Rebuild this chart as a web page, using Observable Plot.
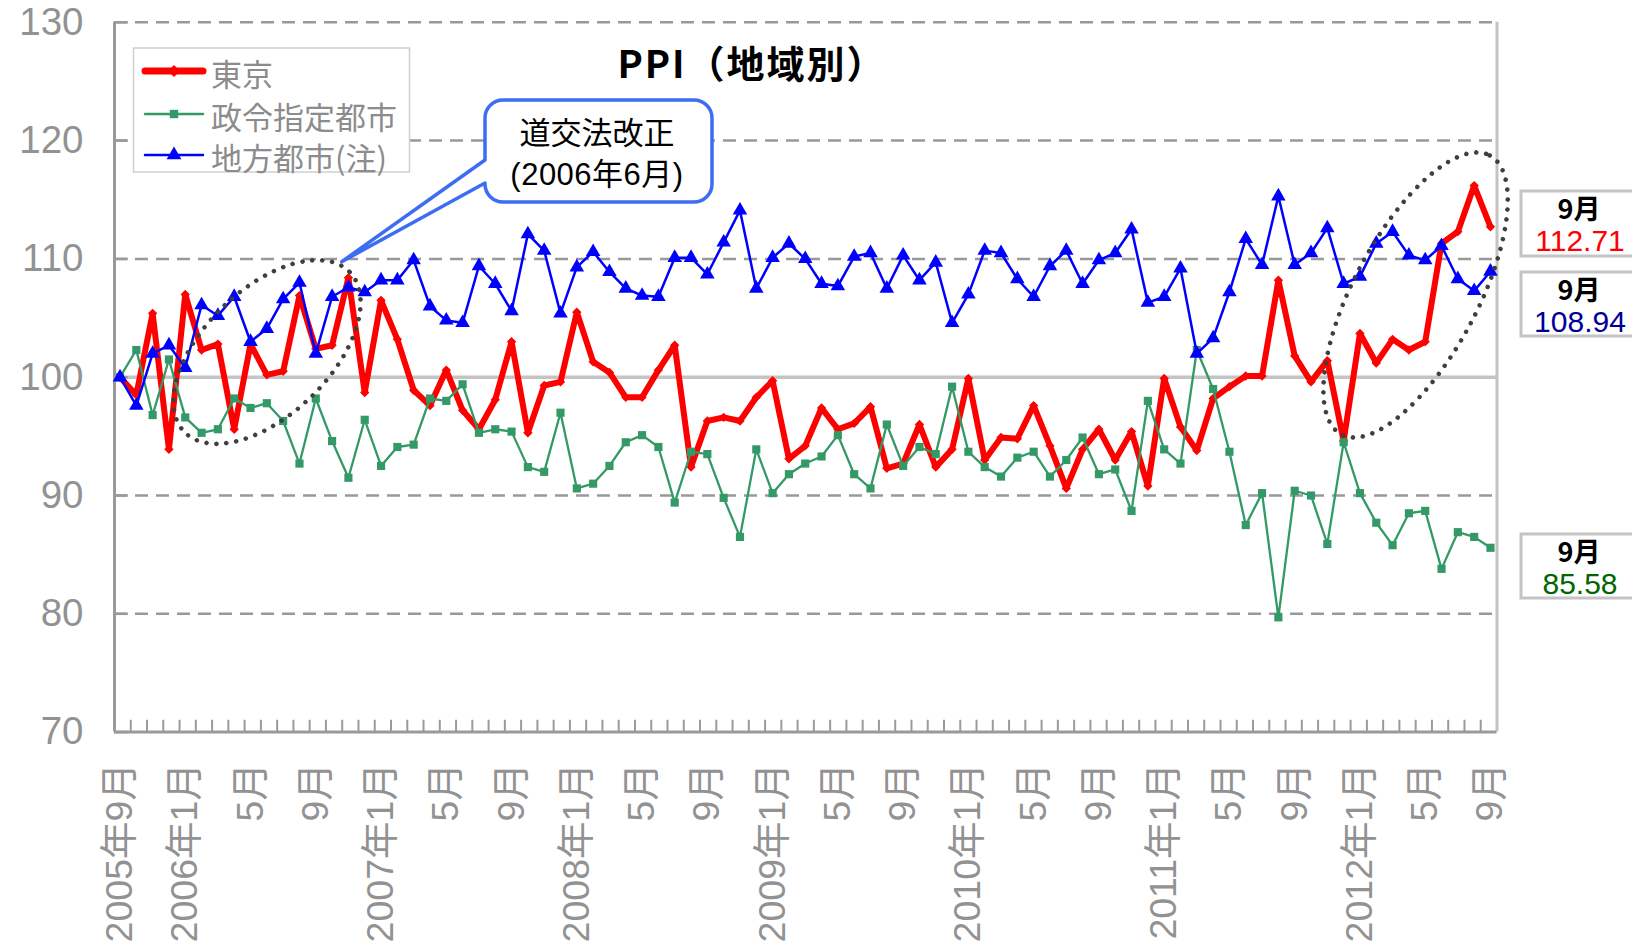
<!DOCTYPE html>
<html>
<head>
<meta charset="utf-8">
<script src="https://cdn.jsdelivr.net/npm/d3@7"></script>
<script src="https://cdn.jsdelivr.net/npm/@observablehq/plot@0.6"></script>
<style>
  html, body { margin: 0; padding: 0; background: #fff; }
  #chart { position: relative; width: 1632px; height: 949px; overflow: hidden; }
</style>
</head>
<body>
<div id="chart"></div>
<script>
// ---- data (monthly, 2005年9月 … 2012年9月, 85 points) ----
const seriesNames = ["東京", "政令指定都市", "地方都市(注)"];

const tokyo = [
  100.0, 98.5, 105.4, 93.9, 107.0, 102.3, 102.8, 95.6, 102.8, 100.2,
  100.5, 106.9, 102.4, 102.7, 108.4, 98.7, 106.5, 103.2, 98.9, 97.6,
  100.6, 97.2, 95.6, 98.1, 103.0, 95.3, 99.3, 99.6, 105.5, 101.3,
  100.4, 98.3, 98.3, 100.6, 102.7, 92.4, 96.3, 96.6, 96.3, 98.3,
  99.7, 93.1, 94.2, 97.4, 95.6, 96.1, 97.5, 92.3, 92.7, 96.0,
  92.4, 93.9, 99.9, 93.0, 94.9, 94.8, 97.6, 94.2, 90.6, 93.9,
  95.6, 93.0, 95.4, 90.8, 99.9, 95.8, 93.8, 98.2, 99.2, 100.1,
  100.1, 108.2, 101.8, 99.6, 101.4, 94.6, 103.7, 101.2, 103.2, 102.3,
  103.0, 111.3, 112.3, 116.2, 112.71
];

const designated = [
  100.0, 102.3, 96.8, 101.5, 96.6, 95.3, 95.6, 98.2, 97.4, 97.8,
  96.3, 92.7, 98.2, 94.6, 91.5, 96.4, 92.5, 94.1, 94.3, 98.2,
  98.0, 99.4, 95.3, 95.6, 95.4, 92.4, 92.0, 97.0, 90.6, 91.0,
  92.5, 94.5, 95.1, 94.1, 89.4, 93.7, 93.5, 89.8, 86.5, 93.9,
  90.2, 91.8, 92.7, 93.3, 95.1, 91.8, 90.6, 96.0, 92.5, 94.1,
  93.5, 99.2, 93.7, 92.4, 91.6, 93.2, 93.7, 91.6, 93.0, 94.9,
  91.8, 92.2, 88.7, 98.0, 93.9, 92.7, 102.3, 99.0, 93.7, 87.5,
  90.2, 79.7, 90.4, 90.0, 85.9, 94.5, 90.2, 87.7, 85.8, 88.5,
  88.7, 83.8, 86.9, 86.5, 85.58
];

const regional = [
  100.0, 97.6, 102.0, 102.7, 100.8, 106.1, 105.2, 106.8, 103.0, 104.1,
  106.6, 108.0, 102.0, 106.8, 107.6, 107.2, 108.2, 108.2, 109.9, 106.0,
  104.8, 104.6, 109.4, 107.9, 105.6, 112.1, 110.7, 105.4, 109.3, 110.6,
  108.9, 107.5, 106.9, 106.8, 110.1, 110.1, 108.7, 111.4, 114.1, 107.5,
  110.1, 111.3, 110.0, 107.9, 107.7, 110.2, 110.5, 107.5, 110.3, 108.2,
  109.7, 104.6, 107.0, 110.7, 110.5, 108.3, 106.8, 109.4, 110.7, 107.9,
  109.9, 110.5, 112.5, 106.3, 106.8, 109.2, 102.0, 103.3, 107.2, 111.7,
  109.5, 115.3, 109.5, 110.5, 112.6, 107.9, 108.5, 111.3, 112.3, 110.3,
  109.9, 111.1, 108.3, 107.3, 108.94
];

const xTickLabels = [
  "2005年9月", "2006年1月", "5月", "9月", "2007年1月", "5月", "9月",
  "2008年1月", "5月", "9月", "2009年1月", "5月", "9月", "2010年1月",
  "5月", "9月", "2011年1月", "5月", "9月", "2012年1月", "5月", "9月"
];
const yTickValues = [70, 80, 90, 100, 110, 120, 130];
const dashedGrid = [80, 90, 110, 120, 130];

const lastLabel = "9月";
const lastValues = ["112.71", "108.94", "85.58"];

const titleText = "PPI（地域別）";
const calloutLines = ["道交法改正", "(2006年6月)"];

// ---- layout ----
const W = 1632, H = 949;
const n = tokyo.length;
const idx = d3.range(n);
const xDomain = [-0.337, 84.40];
const labelIdx = xTickLabels.map((_, k) => k * 4);
const xTickPos = d3.range(1, 85).map(k => xDomain[0] + k * (xDomain[1] - xDomain[0]) / 85);

const GRAY = "#929292";
const FONT = "'Liberation Sans', Arial, 'Noto Sans CJK JP', sans-serif";
const JFONT = "'Noto Sans CJK JP', 'Liberation Sans', sans-serif";

const chart = Plot.plot({
  width: W,
  height: H,
  marginLeft: 114,
  marginRight: W - 1496.5,
  marginTop: 21.8,
  marginBottom: H - 731.6,
  x: {type: "linear", domain: xDomain, axis: null},
  y: {domain: [70, 130], axis: null},
  style: {fontFamily: FONT, background: "white", overflow: "visible"},
  marks: [
    Plot.ruleY(dashedGrid, {stroke: "#999", strokeWidth: 2.5, strokeDasharray: "13,8"}),
    Plot.ruleY([100], {stroke: "#c4c4c4", strokeWidth: 3.5}),
    // frame: right border, left axis, bottom axis
    Plot.ruleX([xDomain[1]], {stroke: "#c4c4c4", strokeWidth: 3}),
    Plot.ruleX([xDomain[0]], {stroke: "#9a9a9a", strokeWidth: 3}),
    Plot.ruleY([70], {stroke: "#9a9a9a", strokeWidth: 3}),
    // y ticks (inward)
    Plot.ruleY(yTickValues, {x1: xDomain[0], x2: xDomain[0] + 0.85, stroke: "#9a9a9a", strokeWidth: 2.5}),
    // x ticks (inward)
    Plot.ruleX(xTickPos, {y1: 70, y2: 71.0, stroke: "#9a9a9a", strokeWidth: 2}),
    // y tick labels
    Plot.text(yTickValues, {x: xDomain[0], y: d => d, text: d => String(d), textAnchor: "end", dx: -31, fontSize: 38.5, fill: GRAY, letterSpacing: 3}),
    // x tick labels
    Plot.text(labelIdx, {x: d => d, y: 70, text: (d, i) => xTickLabels[i], rotate: -90, textAnchor: "end", dy: 31, fontSize: 37.5, fill: GRAY}),
    // series: 東京
    Plot.line(idx, {x: i => i, y: i => tokyo[i], stroke: "#ff0000", strokeWidth: 6, strokeLinejoin: "round"}),
    Plot.dot(idx, {x: i => i, y: i => tokyo[i], symbol: "diamond2", r: 4.2, fill: "#ff0000"}),
    // 政令指定都市
    Plot.line(idx, {x: i => i, y: i => designated[i], stroke: "#339966", strokeWidth: 2.3}),
    Plot.dot(idx, {x: i => i, y: i => designated[i], symbol: "square", r: 4.6, fill: "#339966"}),
    // 地方都市
    Plot.line(idx, {x: i => i, y: i => regional[i], stroke: "#0000ff", strokeWidth: 2.5}),
    Plot.dot(idx, {x: i => i, y: i => regional[i], symbol: "triangle", r: 5.4, fill: "#0000ff"})
  ]
});

document.getElementById("chart").appendChild(chart);

// ---- annotations (positioned with the plot's scales) ----
const sx = chart.scale("x"), sy = chart.scale("y");
const X = v => sx.apply(v), Y = v => sy.apply(v);
const svg = d3.select(chart);
const ann = svg.append("g").attr("text-anchor", "start");

// dotted ellipses (centre in data units, radii in px)
const ellipses = [
  {cx: 9.04, cy: 102.09, rx: 115, ry: 63, angle: -44},
  {cx: 79.44, cy: 106.91, rx: 158, ry: 62, angle: -62}
];
for (const e of ellipses) {
  ann.append("ellipse")
    .attr("cx", 0).attr("cy", 0).attr("rx", e.rx).attr("ry", e.ry)
    .attr("transform", `translate(${X(e.cx)},${Y(e.cy)}) rotate(${e.angle})`)
    .attr("fill", "none").attr("stroke", "#3f3f3f").attr("stroke-width", 4.5)
    .attr("stroke-linecap", "round").attr("stroke-dasharray", "0 10");
}

// callout
const tip = {x: 13.62, y: 109.72};
const box = {x0: 485, x1: 712, y0: 100, y1: 202, r: 18, w0: 160, w1: 183};
const tx = X(tip.x), ty = Y(tip.y);
const p = `M${box.x0 + box.r},${box.y0} H${box.x1 - box.r} A${box.r},${box.r} 0 0 1 ${box.x1},${box.y0 + box.r}
 V${box.y1 - box.r} A${box.r},${box.r} 0 0 1 ${box.x1 - box.r},${box.y1} H${box.x0 + box.r}
 A${box.r},${box.r} 0 0 1 ${box.x0},${box.y1 - box.r} L${box.x0},${box.w1} L${tx},${ty} L${box.x0},${box.w0}
 V${box.y0 + box.r} A${box.r},${box.r} 0 0 1 ${box.x0 + box.r},${box.y0} Z`;
ann.append("path").attr("d", p).attr("fill", "white").attr("stroke", "#3c6df2").attr("stroke-width", 3.5).attr("stroke-linejoin", "round");
ann.append("text").attr("x", 597).attr("y", 130).attr("text-anchor", "middle").attr("dominant-baseline", "central")
  .attr("font-family", JFONT).attr("font-size", 31).attr("fill", "#000").text(calloutLines[0]);
ann.append("text").attr("x", 597).attr("y", 174).attr("text-anchor", "middle").attr("dominant-baseline", "central")
  .attr("font-family", FONT).attr("font-size", 31).attr("letter-spacing", 0.5).attr("fill", "#000").text(calloutLines[1]);

// title
ann.append("text").attr("x", 752).attr("y", 61).attr("text-anchor", "middle").attr("dominant-baseline", "central")
  .attr("font-family", JFONT).attr("font-weight", "bold").attr("font-size", 38).attr("letter-spacing", 2).attr("fill", "#000").text(titleText);

// legend
const lg = ann.append("g");
lg.append("rect").attr("x", 133.5).attr("y", 48).attr("width", 276).attr("height", 124)
  .attr("fill", "white").attr("stroke", "#cfcfcf").attr("stroke-width", 1.5);
const legendRows = [
  {name: seriesNames[0], color: "#ff0000", w: 7, sym: d3.symbolDiamond2, size: 90, y: 71},
  {name: seriesNames[1], color: "#339966", w: 2.5, sym: d3.symbolSquare, size: 70, y: 114},
  {name: seriesNames[2], color: "#0000ff", w: 2.5, sym: d3.symbolTriangle, size: 95, y: 155}
];
for (const r of legendRows) {
  lg.append("line").attr("x1", 145).attr("x2", 203).attr("y1", r.y).attr("y2", r.y)
    .attr("stroke", r.color).attr("stroke-width", r.w).attr("stroke-linecap", "round");
  lg.append("path").attr("d", d3.symbol(r.sym, r.size)()).attr("transform", `translate(174,${r.y})`).attr("fill", r.color);
  lg.append("text").attr("x", 211).attr("y", r.y + 1).attr("text-anchor", "start").attr("dominant-baseline", "central")
    .attr("font-family", JFONT).attr("font-size", 31).attr("fill", "#8c8c8c").text(r.name);
}

// end-value boxes (right side)
const endBoxes = [
  {y0: 191, y1: 256, color: "#ff0000", value: lastValues[0]},
  {y0: 272, y1: 336, color: "#000099", value: lastValues[1]},
  {y0: 534, y1: 598, color: "#006600", value: lastValues[2]}
];
for (const b of endBoxes) {
  ann.append("rect").attr("x", 1521).attr("y", b.y0).attr("width", 140).attr("height", b.y1 - b.y0)
    .attr("fill", "white").attr("stroke", "#c4c4c4").attr("stroke-width", 3);
  ann.append("text").attr("x", 1579).attr("y", b.y0 + 16).attr("text-anchor", "middle").attr("dominant-baseline", "central")
    .attr("font-family", JFONT).attr("font-weight", "bold").attr("font-size", 27).attr("fill", "#000").text(lastLabel);
  ann.append("text").attr("x", 1580).attr("y", b.y0 + 49).attr("text-anchor", "middle").attr("dominant-baseline", "central")
    .attr("font-family", FONT).attr("font-size", 30).attr("fill", b.color).text(b.value);
}
</script>
</body>
</html>
